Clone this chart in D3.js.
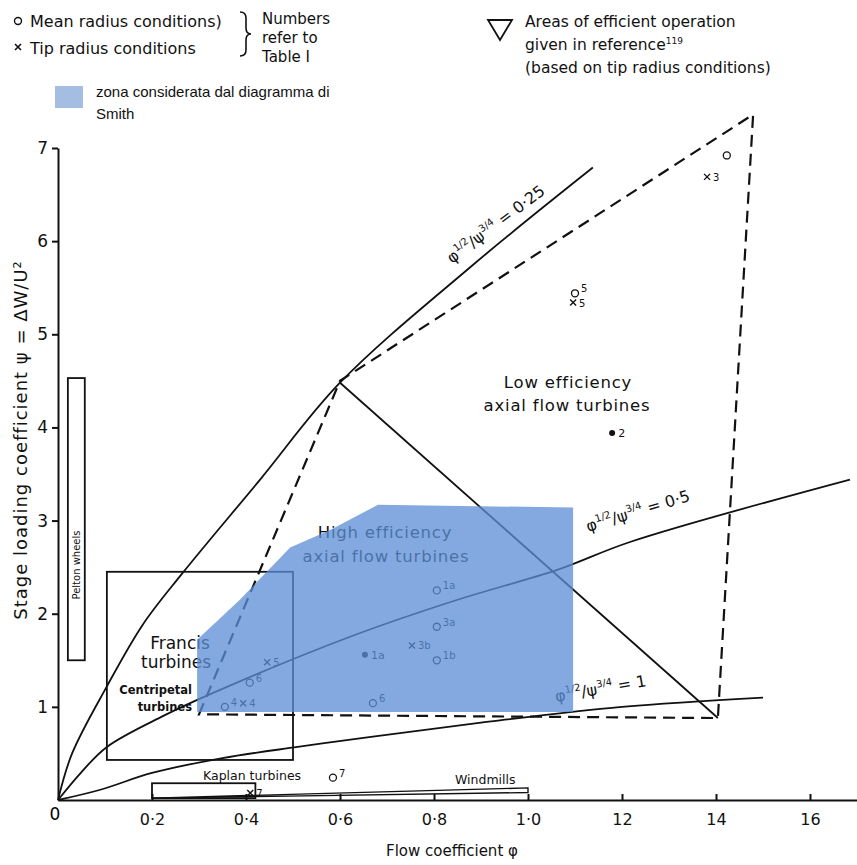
<!DOCTYPE html>
<html lang="en">
<head>
<meta charset="UTF-8">
<title>Turbine stage loading vs flow coefficient</title>
<script src="https://d3js.org/d3.v7.min.js"></script>
<style>
  html, body { margin: 0; padding: 0; background: #fff; }
  svg { display: block; font-family: "DejaVu Sans", sans-serif; }
  .axis path, .axis line { stroke: #111; stroke-width: 2; }
  .axis text { font-size: 16px; fill: #111; font-family: "DejaVu Sans", sans-serif; }
  .curve { fill: none; stroke: #111; stroke-width: 1.8; }
  .dash { fill: none; stroke: #111; stroke-width: 2.2; stroke-dasharray: 12,7; }
  .box { fill: none; stroke: #111; stroke-width: 1.8; }
  .lbl { fill: #111; }
</style>
</head>
<body>
<svg width="857" height="865"></svg>
<script>
// ticks
const xTicks = [0.2, 0.4, 0.6, 0.8, 1.0, 1.2, 1.4, 1.6];
const xTickLabels = ["0·2", "0·4", "0·6", "0·8", "1·0", "12", "14", "16"];
const yTicks = [1, 2, 3, 4, 5, 6, 7];

// phi^1/2 / psi^3/4 = const lines [phi, psi]
const curve025 = [[0,0],[0.03,0.5],[0.104,1.22],[0.18,1.88],[0.264,2.43],[0.43,3.44],[0.6,4.48],[0.877,5.72],[1.138,6.79]];
const curve05  = [[0,0],[0.05,0.3],[0.104,0.57],[0.223,0.9],[0.33,1.15],[0.62,1.75],[0.85,2.15],[1.062,2.47],[1.217,2.77],[1.685,3.44]];
const curve1   = [[0,0],[0.09,0.11],[0.2,0.29],[0.35,0.45],[0.51,0.57],[0.67,0.68],[0.9,0.83],[1.2,1.0],[1.5,1.1]];

// dashed "areas of efficient operation" outline and the solid split line
const effZone = [[0.3,0.92],[0.6,4.5],[1.479,7.36],[1.404,0.88]];
const splitLine = [[0.6,4.48],[1.404,0.88]];

// shaded Smith diagram zone
const smithZone = [[0.296,0.945],[0.296,1.72],[0.387,2.15],[0.494,2.71],[0.579,2.9],[0.681,3.17],[1.096,3.14],[1.096,0.945]];

// machine boxes [phi0, phi1, psi0, psi1]
const peltonBox  = [0.021, 0.057, 1.5, 4.53];
const francisBox = [0.104, 0.5, 0.43, 2.45];
const kaplanBox  = [0.2, 0.42, 0.02, 0.18];
const windmills  = [[0.2,0.02],[1.0,0.13],[1.0,0.08]];

// data points [phi, psi, label]
const meanPts = [[1.423,6.92,""],[1.10,5.44,"5"],[0.806,2.25,"1a"],[0.806,1.86,"3a"],[0.806,1.50,"1b"],
                 [0.67,1.04,"6"],[0.408,1.26,"6"],[0.585,0.24,"7"],[0.355,1.0,"4"]];
const tipPts  = [[1.381,6.69,"3"],[1.096,5.34,"5"],[0.753,1.66,"3b"],[0.445,1.48,"5"],[0.409,0.075,"7"],[0.394,1.04,"4"]];
const dotPts  = [[1.179,3.94,"2"],[0.653,1.56,"1a"]];

const svg = d3.select("svg");
const x = d3.scaleLinear().domain([0, 1.7]).range([58, 857]);
const y = d3.scaleLinear().domain([0, 7]).range([800, 148]);
const line = d3.line().x(d => x(d[0])).y(d => y(d[1]));
const smooth = d3.line().x(d => x(d[0])).y(d => y(d[1])).curve(d3.curveCatmullRom.alpha(0.5));

// axes
svg.append("g").attr("class", "axis").attr("transform", "translate(0,800)")
  .call(d3.axisBottom(x).tickValues(xTicks).tickSizeInner(-6).tickSizeOuter(0).tickPadding(14)
    .tickFormat((d, i) => xTickLabels[i]));
const yAxis = svg.append("g").attr("class", "axis").attr("transform", "translate(58,0)")
  .call(d3.axisLeft(y).tickValues(yTicks).tickSize(6).tickSizeOuter(0).tickPadding(4)
    .tickFormat(d3.format("d")));
yAxis.selectAll("text").style("font-size", "17px");
svg.append("text").attr("x", 55).attr("y", 820).attr("text-anchor", "middle")
  .style("font-size", "17px").text("0");

// curves
[curve025, curve05, curve1].forEach(c => svg.append("path").attr("class", "curve").attr("d", smooth(c)));
svg.append("path").attr("class", "dash").attr("d", line(effZone) + "Z");
svg.append("path").attr("class", "curve").attr("d", line(splitLine));

// boxes
function box(b) {
  svg.append("rect").attr("class", "box")
    .attr("x", x(b[0])).attr("y", y(b[3]))
    .attr("width", x(b[1]) - x(b[0])).attr("height", y(b[2]) - y(b[3]));
}
box(peltonBox); box(francisBox); box(kaplanBox);
svg.append("path").attr("class", "box").style("stroke-width", 1.4).attr("d", line(windmills) + "Z");

// text helper
function txt(s, px, py, size, opts = {}) {
  const t = svg.append("text").attr("x", px).attr("y", py).attr("class", "lbl")
    .style("font-size", size + "px").text(s);
  if (opts.anchor) t.attr("text-anchor", opts.anchor);
  if (opts.family) t.style("font-family", opts.family);
  if (opts.weight) t.style("font-weight", opts.weight);
  if (opts.ls) t.style("letter-spacing", opts.ls + "px");
  return t;
}

txt("Pelton wheels", 0, 0, 10, { anchor: "middle" })
  .attr("transform", `translate(${x(0.039) + 4},565) rotate(-90)`);
txt("Francis", 180, 649, 17, { anchor: "middle" });
txt("turbines", 176, 668, 17, { anchor: "middle" });
txt("Centripetal", 192, 694, 11.5, { anchor: "end", weight: "bold" });
txt("turbines", 192, 711, 11.5, { anchor: "end", weight: "bold" });
txt("Kaplan turbines", 203, 780, 12.5);
txt("Windmills", 455, 784, 12.5);
txt("High efficiency", 385, 538, 16.5, { anchor: "middle", ls: 0.8 });
txt("axial flow turbines", 386, 562, 16.5, { anchor: "middle", ls: 0.8 });
txt("Low efficiency", 568, 388, 16.5, { anchor: "middle", ls: 0.8 });
txt("axial flow turbines", 567, 411, 16.5, { anchor: "middle", ls: 0.8 });

// curve labels
function curveLabel(val, px, py, ang) {
  const t = svg.append("text").attr("class", "lbl").style("font-size", "16px")
    .attr("transform", `translate(${px},${py}) rotate(${ang})`);
  t.append("tspan").text("φ");
  t.append("tspan").attr("dy", -7).style("font-size", "10px").text("1/2");
  t.append("tspan").attr("dy", 7).text("/ψ");
  t.append("tspan").attr("dy", -7).style("font-size", "10px").text("3/4");
  t.append("tspan").attr("dy", 7).text(" = " + val);
}
curveLabel("0·25", 452, 264, -37);
curveLabel("0·5", 588, 532, -17);
curveLabel("1", 556, 702, -10);

// markers
const mg = svg.append("g");
meanPts.forEach(d => {
  mg.append("circle").attr("cx", x(d[0])).attr("cy", y(d[1])).attr("r", 3.5)
    .attr("fill", "#fff").attr("stroke", "#111").attr("stroke-width", 1.3);
  txt(d[2], x(d[0]) + 6, y(d[1]) - 1, 10);
});
tipPts.forEach(d => {
  const cx = x(d[0]), cy = y(d[1]);
  mg.append("path").attr("d", `M${cx-3},${cy-3}L${cx+3},${cy+3}M${cx-3},${cy+3}L${cx+3},${cy-3}`)
    .attr("stroke", "#111").attr("stroke-width", 1.4);
  txt(d[2], cx + 6, cy + 4, 10);
});
dotPts.forEach(d => {
  mg.append("circle").attr("cx", x(d[0])).attr("cy", y(d[1])).attr("r", 3).attr("fill", "#111");
  txt(d[2], x(d[0]) + 6, y(d[1]) + 4, 11);
});

// shaded zone over everything
svg.append("path").attr("d", line(smithZone) + "Z")
  .attr("fill", "#5c8ed6").attr("fill-opacity", 0.76);

// axis titles
txt("Flow coefficient φ", 452, 856, 15, { anchor: "middle" });
txt("Stage loading coefficient ψ = ΔW/U²", 0, 0, 18, { anchor: "middle", ls: 1 })
  .attr("transform", "translate(27,440) rotate(-90)");

// legend top-left
svg.append("circle").attr("cx", 18).attr("cy", 21).attr("r", 3.5)
  .attr("fill", "#fff").attr("stroke", "#111").attr("stroke-width", 1.4);
txt("Mean radius conditions)", 30, 27, 16);
svg.append("path").attr("d", "M15,44L21,50M15,50L21,44").attr("stroke", "#111").attr("stroke-width", 1.6);
txt("Tip radius conditions", 30, 54, 16);
svg.append("path").attr("fill", "none").attr("stroke", "#111").attr("stroke-width", 1.6)
  .attr("d", "M240,12 q6,0 6,6 v10 q0,6 5,6 q-5,0 -5,6 v10 q0,6 -6,6");
txt("Numbers", 262, 24, 15);
txt("refer to", 262, 43, 15);
txt("Table I", 262, 62, 15);

svg.append("rect").attr("x", 55).attr("y", 86).attr("width", 28).attr("height", 22).attr("fill", "#a4bde2");
txt("zona considerata dal diagramma di", 96, 97, 15, { family: "Liberation Sans, Arial, sans-serif" });
txt("Smith", 96, 119, 15, { family: "Liberation Sans, Arial, sans-serif" });

// legend top-right
svg.append("path").attr("d", "M488,20L512,20L500,40Z").attr("fill", "none")
  .attr("stroke", "#111").attr("stroke-width", 1.8);
txt("Areas of efficient operation", 525, 27, 15.5);
const g2 = txt("given in reference", 525, 50, 15.5);
g2.append("tspan").attr("dy", -6).style("font-size", "9px").text("119");
txt("(based on tip radius conditions)", 525, 73, 15.5);
</script>
</body>
</html>
